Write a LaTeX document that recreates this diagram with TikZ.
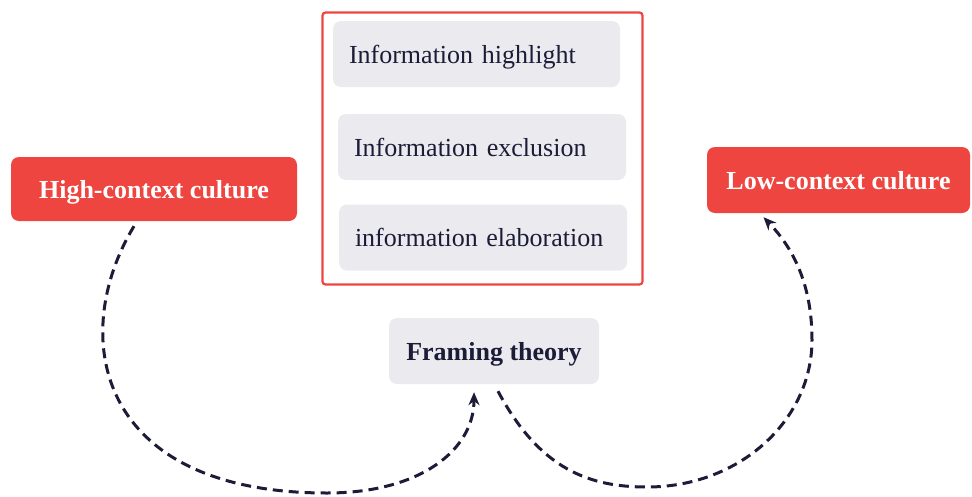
\documentclass[tikz,border=0pt]{standalone}
\usepackage{fontspec}
\setmainfont{Liberation Serif}
\usetikzlibrary{arrows.meta,calc}
\definecolor{redc}{HTML}{EE4540}
\definecolor{grayc}{HTML}{EBEAEE}
\definecolor{navy}{HTML}{1C1C38}
\begin{document}
\begin{tikzpicture}[x=1pt,y=-1pt,
  txt/.style={font=\fontsize{26}{30}\selectfont, text height=22pt, text depth=4pt},
  graybox/.style={txt, fill=grayc, rounded corners=8pt, text=navy, inner xsep=16pt, inner ysep=0pt,
     text width=255pt, align=left, minimum height=66pt},
  redbox/.style={txt, font=\fontsize{26}{30}\selectfont\bfseries, fill=redc, rounded corners=8pt, text=white, inner sep=0pt, minimum height=64pt},
  frame/.style={draw=redc, line width=2.2pt, rounded corners=3pt, inner sep=0pt},
  conn/.style={draw=navy, line width=3pt, dash pattern=on 10pt off 6pt, -{Stealth[length=13pt,width=11pt]}}
]
\useasboundingbox (0,0) rectangle (972,496);
\node[frame, minimum width=320pt, minimum height=272pt] (box) at (482.5,148.5) {};
\node[graybox] (g1) at (476.5,54) {Information highlight};
\node[graybox, text width=256pt] (g2) at (482,147) {Information exclusion};
\node[graybox, text width=256pt] (g3) at (483,237.5) {information elaboration};
\node[redbox, minimum width=286pt] (high) at (154,189) {High-context culture};
\node[redbox, minimum width=263pt, minimum height=66pt] (low) at (838.5,180) {Low-context culture};
\node[txt, font=\fontsize{26}{30}\selectfont\bfseries, fill=grayc, text=navy, rounded corners=8pt, inner sep=0pt, minimum width=210pt, minimum height=66pt] (framing) at (494,351) {Framing theory};
\draw[conn] ([xshift=-20pt,yshift=-5pt]high.south) .. controls (68,335) and (95,493) .. (327,493)
   .. controls (420,493) and (474,450) .. ([xshift=-20pt,yshift=-8pt]framing.south);
\draw[conn] ([xshift=4pt,yshift=-7pt]framing.south) .. controls (540,470) and (590,487) .. (647,487)
   .. controls (740,487) and (812,420) .. (812,340)
   .. controls (812,280) and (790,245) .. ([xshift=-75pt,yshift=-4pt]low.south);
\end{tikzpicture}
\end{document}
